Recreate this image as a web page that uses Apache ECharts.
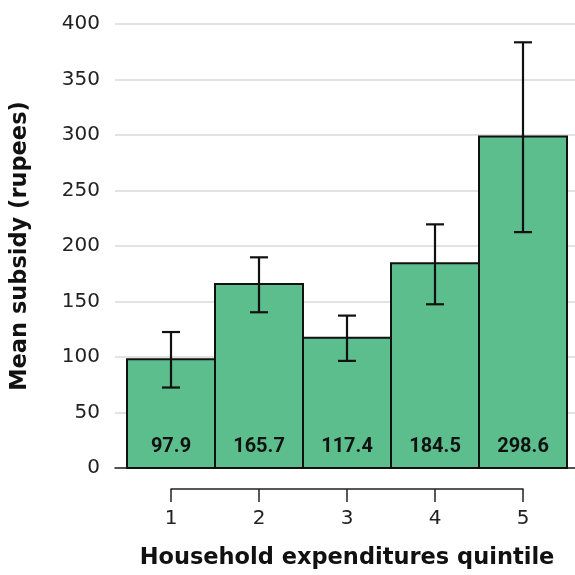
<!DOCTYPE html>
<html>
<head>
<meta charset="utf-8">
<script src="https://cdn.jsdelivr.net/npm/echarts@6/dist/echarts.min.js"></script>
<style>html,body{margin:0;padding:0;background:#fff}#c{width:575px;height:575px}</style>
</head>
<body>
<div id="c"></div>
<script>
const quintiles = [1, 2, 3, 4, 5];
const meanSubsidy = [97.9, 165.7, 117.4, 184.5, 298.6];
const errLow = [72.5, 140.3, 96.5, 147.5, 212.5];
const errHigh = [122.5, 189.8, 137.3, 219.5, 383.5];
const barLabels = ['97.9', '165.7', '117.4', '184.5', '298.6'];
const yTicks = [0, 50, 100, 150, 200, 250, 300, 350, 400];

const FONT = 'DejaVu Sans';
const LABEL_FONT = 'Roboto';
const FILL = '#5bbe8c';

const barData = quintiles.map((q, i) => [q, meanSubsidy[i], barLabels[i]]);
const errData = quintiles.map((q, i) => [q, errLow[i], errHigh[i]]);

const chart = echarts.init(document.getElementById('c'), null, {renderer: 'canvas'});
chart.setOption({
  animation: false,
  grid: [
    {left: 115, width: 460, top: 24, height: 444},
    {left: 171, width: 352, top: 488, height: 1}
  ],
  xAxis: [
    {gridIndex: 0, type: 'value', min: 0.3636, max: 5.5909,
     axisLine: {show: true, lineStyle: {color: '#222', width: 1.5}},
     axisTick: {show: false}, axisLabel: {show: false}, splitLine: {show: false}},
    {gridIndex: 1, type: 'value', min: 1, max: 5, interval: 1, position: 'bottom',
     axisLine: {show: true, lineStyle: {color: '#222', width: 1.5}},
     axisTick: {show: true, inside: false, length: 13, lineStyle: {color: '#222', width: 1.5}},
     axisLabel: {fontFamily: FONT, fontSize: 20, color: '#222', margin: 20},
     splitLine: {show: false},
     name: 'Household expenditures quintile', nameLocation: 'middle', nameGap: 58,
     nameTextStyle: {fontFamily: FONT, fontSize: 22.5, fontWeight: 'bold', color: '#111'}}
  ],
  yAxis: [
    {gridIndex: 0, type: 'value', min: 0, max: 400, interval: 50,
     axisLine: {show: false}, axisTick: {show: false},
     axisLabel: {fontFamily: FONT, fontSize: 20, color: '#222', margin: 15},
     splitLine: {show: true, lineStyle: {color: '#d9d9d9', width: 1.5}},
     name: 'Mean subsidy (rupees)', nameLocation: 'middle', nameGap: 83, nameRotate: 90,
     nameTextStyle: {fontFamily: FONT, fontSize: 22.5, fontWeight: 'bold', color: '#111'}},
    {gridIndex: 1, type: 'value', show: false}
  ],
  series: [
    {
      type: 'custom', xAxisIndex: 0, yAxisIndex: 0, data: barData, z: 3,
      renderItem: function (params, api) {
        const x = api.value(0), v = api.value(1);
        const p0 = api.coord([x - 0.5, v]);
        const p1 = api.coord([x + 0.5, 0]);
        const lab = api.coord([x, 0]);
        return {
          type: 'group',
          children: [
            {type: 'rect', shape: {x: p0[0], y: p0[1], width: p1[0] - p0[0], height: p1[1] - p0[1]},
             style: {fill: FILL, stroke: '#111', lineWidth: 2}},
            {type: 'text', x: lab[0], y: lab[1] - 21,
             style: {text: barLabels[params.dataIndex], fontFamily: LABEL_FONT, fontSize: 20, fontWeight: 'bold',
                     fill: '#111', align: 'center', verticalAlign: 'middle'}}
          ]
        };
      }
    },
    {
      type: 'custom', xAxisIndex: 0, yAxisIndex: 0, data: errData, z: 4,
      renderItem: function (params, api) {
        const x = api.value(0);
        const lo = api.coord([x, api.value(1)]);
        const hi = api.coord([x, api.value(2)]);
        const hw = 9;
        const st = {stroke: '#111', lineWidth: 2.2};
        return {
          type: 'group',
          children: [
            {type: 'line', shape: {x1: lo[0], y1: lo[1], x2: hi[0], y2: hi[1]}, style: st},
            {type: 'line', shape: {x1: lo[0] - hw, y1: lo[1], x2: lo[0] + hw, y2: lo[1]}, style: st},
            {type: 'line', shape: {x1: hi[0] - hw, y1: hi[1], x2: hi[0] + hw, y2: hi[1]}, style: st}
          ]
        };
      }
    }
  ]
});
</script>
</body>
</html>
